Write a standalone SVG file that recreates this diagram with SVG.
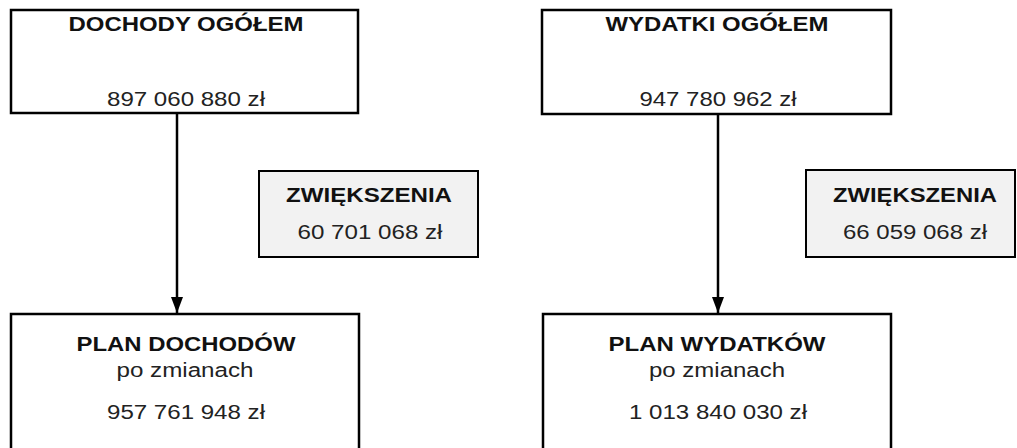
<svg xmlns="http://www.w3.org/2000/svg" width="1017" height="448" viewBox="0 0 1017 448">
<style>
.box{fill:#ffffff;stroke:#000;stroke-width:2.5}
.inc{fill:#f2f2f2;stroke:#000;stroke-width:2}
.b{font-family:"Liberation Sans",Arial,sans-serif;font-weight:bold;font-size:21px;fill:#111;text-anchor:middle}
.r{font-family:"Liberation Sans",Arial,sans-serif;font-size:20px;fill:#222;text-anchor:middle}
.edge{stroke:#000;stroke-width:2.5;fill:none}
</style>
<defs>
<marker id="arr" markerUnits="userSpaceOnUse" markerWidth="16" markerHeight="12" refX="16" refY="6" orient="auto">
<path d="M0,0 L16,6 L0,12 Z" fill="#000"/>
</marker>
</defs>
<rect width="1017" height="448" fill="#fff"/>
<g id="edges">
<line class="edge" x1="177" y1="113" x2="177" y2="313" marker-end="url(#arr)"/>
<line class="edge" x1="718" y1="113" x2="718" y2="313" marker-end="url(#arr)"/>
</g>
<g id="dochody">
<rect class="box" x="11" y="10" width="347" height="103"/>
<text class="b" x="186" y="31" textLength="235" lengthAdjust="spacingAndGlyphs">DOCHODY OGÓŁEM</text>
<text class="r" x="186" y="106" textLength="158" lengthAdjust="spacingAndGlyphs">897 060 880 zł</text>
</g>
<g id="zw1">
<rect class="inc" x="259" y="171" width="219" height="86"/>
<text class="b" x="369" y="202" textLength="166" lengthAdjust="spacingAndGlyphs">ZWIĘKSZENIA</text>
<text class="r" x="370" y="239" textLength="145" lengthAdjust="spacingAndGlyphs">60 701 068 zł</text>
</g>
<g id="plan-dochodow">
<rect class="box" x="11" y="314" width="348" height="150"/>
<text class="b" x="186" y="351" textLength="219" lengthAdjust="spacingAndGlyphs">PLAN DOCHODÓW</text>
<text class="r" x="185" y="377" textLength="137" lengthAdjust="spacingAndGlyphs">po zmianach</text>
<text class="r" x="186" y="419" textLength="158" lengthAdjust="spacingAndGlyphs">957 761 948 zł</text>
</g>
<g id="wydatki">
<rect class="box" x="542" y="10" width="349" height="104"/>
<text class="b" x="717" y="31" textLength="223" lengthAdjust="spacingAndGlyphs">WYDATKI OGÓŁEM</text>
<text class="r" x="718" y="106" textLength="157" lengthAdjust="spacingAndGlyphs">947 780 962 zł</text>
</g>
<g id="zw2">
<rect class="inc" x="806" y="170" width="209" height="87"/>
<text class="b" x="915" y="202" textLength="164" lengthAdjust="spacingAndGlyphs">ZWIĘKSZENIA</text>
<text class="r" x="915" y="239" textLength="144" lengthAdjust="spacingAndGlyphs">66 059 068 zł</text>
</g>
<g id="plan-wydatkow">
<rect class="box" x="543" y="314" width="348" height="150"/>
<text class="b" x="717" y="351" textLength="217" lengthAdjust="spacingAndGlyphs">PLAN WYDATKÓW</text>
<text class="r" x="717" y="377" textLength="136" lengthAdjust="spacingAndGlyphs">po zmianach</text>
<text class="r" x="718" y="419" textLength="178" lengthAdjust="spacingAndGlyphs">1 013 840 030 zł</text>
</g>
</svg>
